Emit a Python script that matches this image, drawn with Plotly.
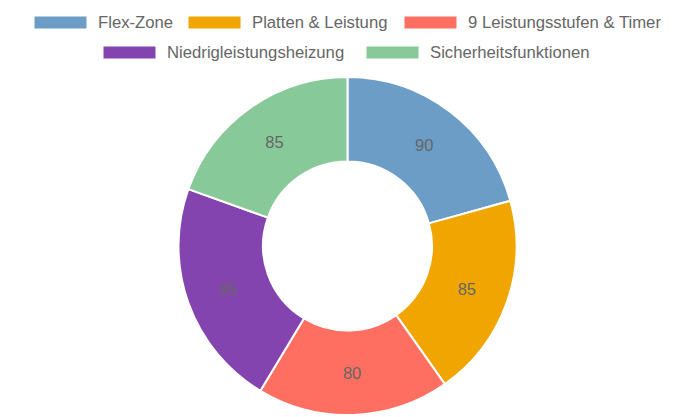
import plotly.graph_objects as go

labels = ["Flex-Zone", "Platten & Leistung", "9 Leistungsstufen & Timer",
          "Niedrigleistungsheizung", "Sicherheitsfunktionen"]
values = [90, 85, 80, 95, 85]
colors = ["#6B9DC6", "#F0A500", "#FF6F61", "#8444AF", "#88C999"]

W, H = 695, 417
FONT = "Liberation Sans, Arial, sans-serif"
GREY = "#666666"

fig = go.Figure(go.Pie(
    labels=labels, values=values, sort=False, direction="clockwise", rotation=0,
    hole=0.5,
    marker=dict(colors=colors, line=dict(color="white", width=2)),
    textinfo="value", textposition="inside", insidetextorientation="horizontal",
    textfont=dict(family=FONT, size=16.5, color=GREY),
    domain=dict(x=[0, 1], y=[2 / H, 340 / H]),
    showlegend=False, hoverinfo="label+value",
))

# custom legend (Chart.js style wide boxes)
rows = [[0, 1, 2], [3, 4]]
row_box_x = [[34, 188, 404], [103, 366]]
row_y = [22.5, 52.5]
shapes, annos = [], []
for r, idxs in enumerate(rows):
    for k, i in enumerate(idxs):
        x0 = row_box_x[r][k]
        yc = row_y[r]
        shapes.append(dict(type="rect", xref="paper", yref="paper",
                           x0=x0 / W, x1=(x0 + 53) / W,
                           y0=1 - (yc + 6.5) / H, y1=1 - (yc - 6.5) / H,
                           fillcolor=colors[i], line=dict(color="white", width=1)))
        annos.append(dict(text=labels[i], xref="paper", yref="paper",
                          x=(x0 + 62) / W, y=1 - yc / H, xanchor="left", yanchor="middle",
                          showarrow=False, font=dict(family=FONT, size=16.7, color=GREY)))

fig.update_layout(width=W, height=H, margin=dict(l=0, r=0, t=0, b=0),
                  paper_bgcolor="white", plot_bgcolor="white",
                  shapes=shapes, annotations=annos)
fig.write_html("out.html")
